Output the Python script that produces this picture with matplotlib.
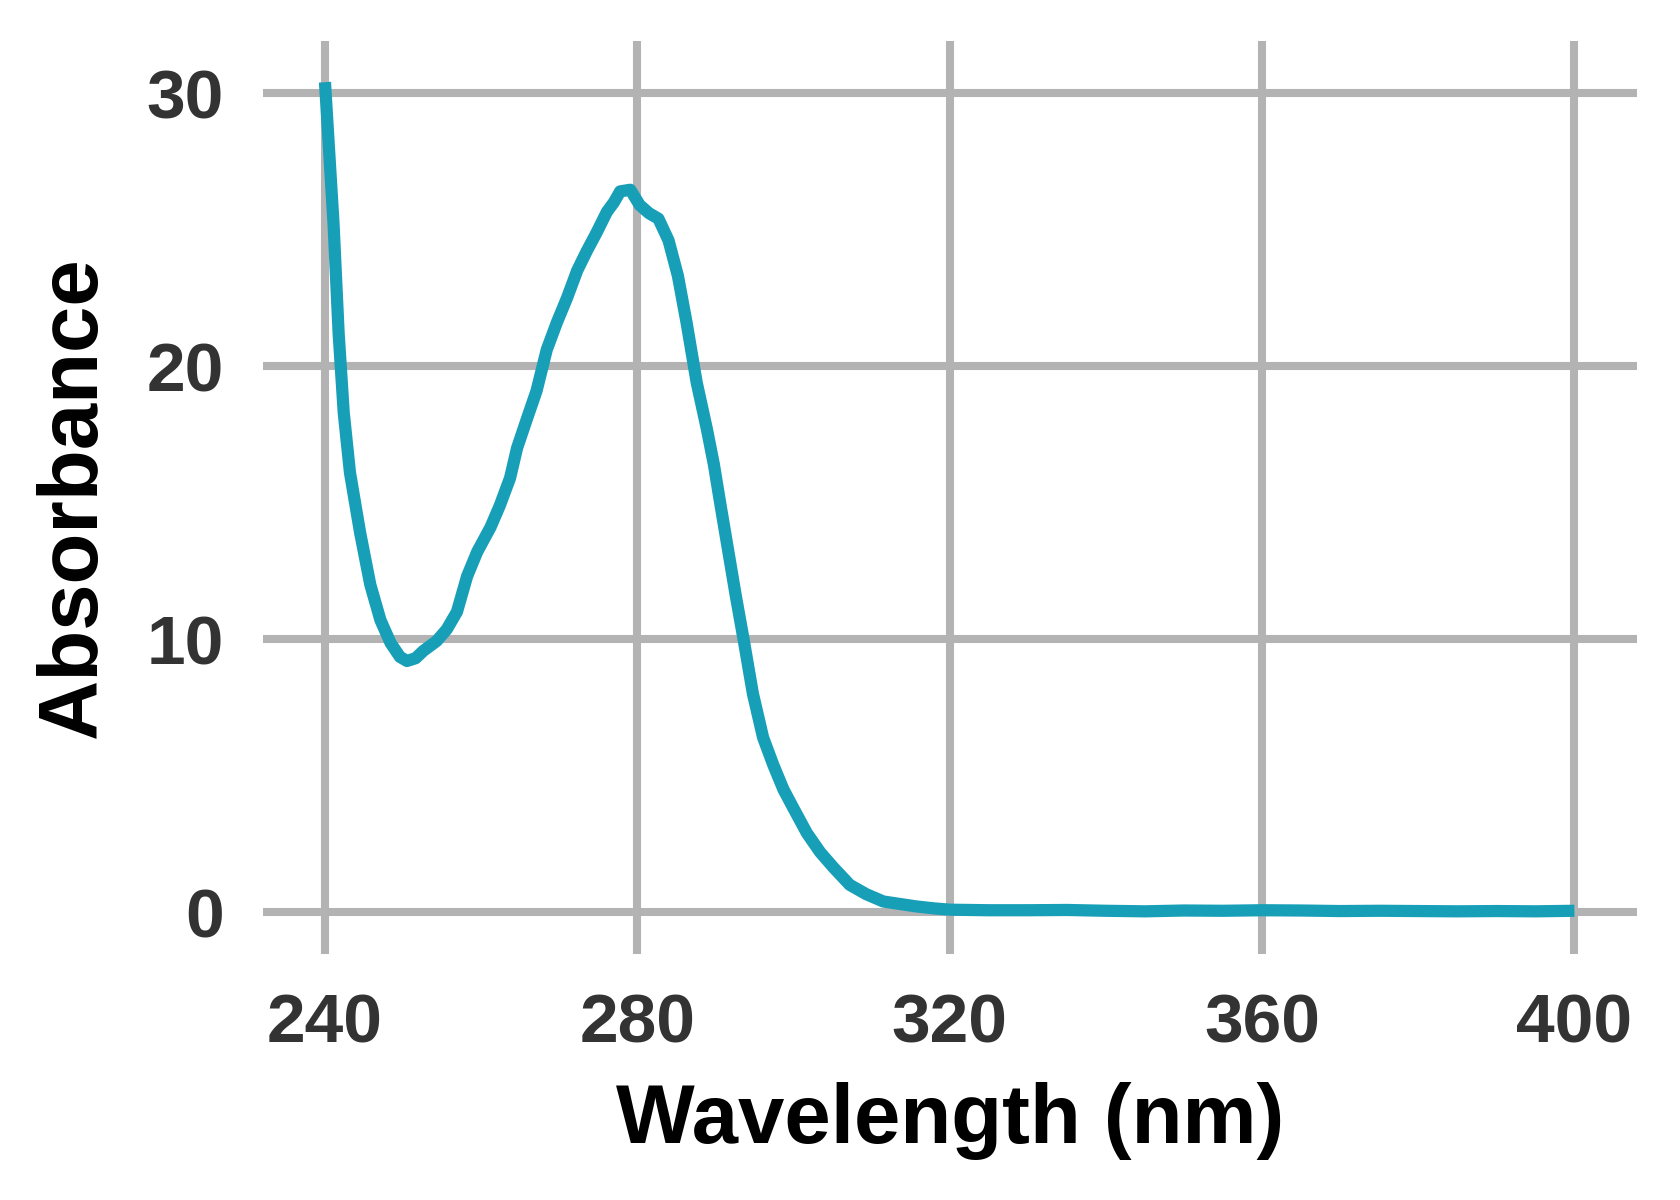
import matplotlib
matplotlib.use("Agg")
from matplotlib import pyplot as plt

# absorbance spectrum, values
wavelength = [240, 241.1, 241.75, 242.4, 243.2, 244.5, 245.8, 247.1, 248.4, 249.6,
              250.5, 251.6, 252.6, 254.3, 255.6, 256.9, 258.2, 259.5, 261.2, 262.4,
              263.7, 264.6, 265.9, 267.1, 268.4, 269.7, 271.0, 272.3, 273.5, 274.8,
              276.1, 277.0, 277.8, 279.1, 280.3, 281.5, 282.7, 284.0, 285.2, 286.3,
              287.6, 288.9, 289.8, 290.6, 291.6, 292.6, 293.6, 294.8, 296.1, 297.4,
              298.7, 300.0, 301.7, 303.4, 305.1, 307.2, 309.3, 311.5, 313.6, 315.7,
              317.9, 320, 325, 330, 335, 340, 345, 350, 355, 360, 365, 370, 375, 380,
              385, 390, 395, 400]
absorbance = [30.4, 25.2, 21.2, 18.3, 16.1, 13.9, 12.0, 10.7, 9.86, 9.35,
              9.2, 9.3, 9.57, 9.93, 10.36, 11.0, 12.3, 13.2, 14.1, 14.9,
              15.9, 17.0, 18.1, 19.1, 20.6, 21.6, 22.5, 23.5, 24.2, 24.9,
              25.65, 26.0, 26.4, 26.46, 25.9, 25.6, 25.4, 24.6, 23.3, 21.6,
              19.4, 17.7, 16.4, 15.0, 13.3, 11.6, 10.0, 8.0, 6.4, 5.4,
              4.5, 3.8, 2.9, 2.2, 1.64, 1.0, 0.66, 0.39, 0.30, 0.21,
              0.14, 0.09, 0.07, 0.07, 0.08, 0.05, 0.03, 0.06, 0.05, 0.07, 0.06, 0.04, 0.05, 0.04,
              0.03, 0.04, 0.03, 0.05]

x_ticks = [240, 280, 320, 360, 400]
y_ticks = [0, 10, 20, 30]

plt.rcParams['font.family'] = ['Liberation Sans', 'DejaVu Sans']
plt.rcParams['font.weight'] = 'bold'

fig = plt.figure(figsize=(8.4, 6), dpi=200)
ax = fig.add_axes([0.15625, 0.2053, 0.8181, 0.7608])

ax.plot(wavelength, absorbance, color="#179FB7", linewidth=4.4,
        solid_capstyle="butt", solid_joinstyle="round", zorder=3)

ax.set_xlim(232, 408)
ax.set_ylim(-1.52, 31.92)
ax.set_xticks(x_ticks)
ax.set_yticks(y_ticks)
ax.grid(True, color="#b3b3b3", linewidth=2.9)
ax.set_axisbelow(True)
for s in ax.spines.values():
    s.set_visible(False)

ax.tick_params(length=0, pad=14, labelsize=25, labelcolor="#333333")
for lbl in ax.get_xticklabels() + ax.get_yticklabels():
    lbl.set_fontweight("bold")

ax.set_xlabel("Wavelength (nm)", fontsize=30, fontweight="bold", color="black", labelpad=9)
ax.set_ylabel("Absorbance", fontsize=30, fontweight="bold", color="black", labelpad=12)

fig.savefig("out.png", dpi=200)
